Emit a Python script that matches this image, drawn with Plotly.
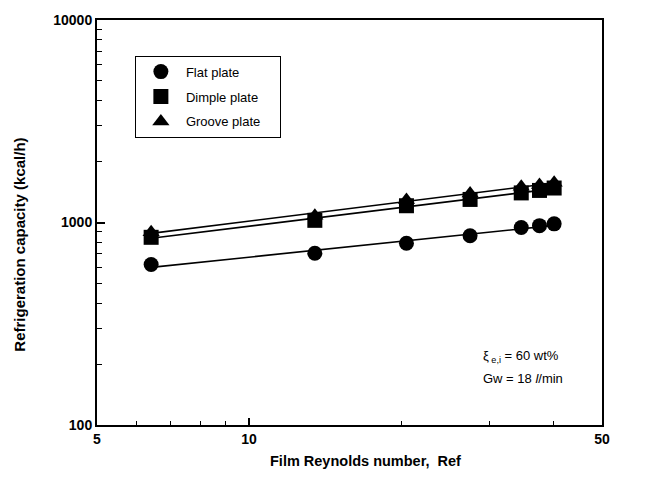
import numpy as np
import plotly.graph_objects as go

re_f = [6.4, 13.5, 20.5, 27.4, 34.6, 37.6, 40.2]
flat = [620, 705, 790, 860, 945, 965, 985]
dimple = [845, 1025, 1210, 1300, 1400, 1440, 1480]
groove = [895, 1080, 1290, 1390, 1500, 1530, 1570]

names = ["Flat plate", "Dimple plate", "Groove plate"]
symbols = ["circle", "square", "triangle-up"]
series = [flat, dimple, groove]

x_ticks = [5, 10, 50]
y_ticks = [100, 1000, 10000]

FONT = "Liberation Sans, Arial"

fig = go.Figure()
lx = np.log10(np.array(re_f))
for name, sym, ys in zip(names, symbols, series):
    p = np.polyfit(lx, np.log10(ys), 1)
    xf = np.array([re_f[0], re_f[-1]])
    yf = 10 ** np.polyval(p, np.log10(xf))
    fig.add_trace(go.Scatter(x=xf, y=yf, mode="lines",
                             line=dict(color="black", width=1.6),
                             showlegend=False, hoverinfo="skip"))
for i, (name, sym, ys) in enumerate(zip(names, symbols, series)):
    fig.add_trace(go.Scatter(x=re_f, y=ys, mode="markers",
                             name=name + "&nbsp;&nbsp;&nbsp;&nbsp;",
                             legendgroup=f"g{i}",
                             marker=dict(symbol=sym, size=15, color="black",
                                         line=dict(width=0))))

bold = dict(family=FONT, size=14, color="black")
fig.update_layout(
    width=650, height=487,
    margin=dict(l=97, r=48, t=14, b=62),
    paper_bgcolor="white", plot_bgcolor="white",
    showlegend=True,
    legend=dict(x=0.075, y=0.912, xanchor="left", yanchor="top",
                bordercolor="black", borderwidth=1, bgcolor="white",
                font=dict(family=FONT, size=13, color="black"),
                itemwidth=40, tracegroupgap=5),
    font=dict(family=FONT, color="black"),
)
fig.update_xaxes(type="log", range=[np.log10(5), np.log10(50)],
                 tickvals=x_ticks, ticktext=[f"<b>{v}</b>" for v in x_ticks],
                 ticks="inside", ticklen=7, tickwidth=1.5, tickcolor="black",
                 minor=dict(tickvals=[6, 7, 8, 9, 20, 30, 40], ticks="inside",
                            ticklen=4, tickcolor="black", tickwidth=1),
                 showline=True, linecolor="black", linewidth=2, mirror=True,
                 showgrid=False, zeroline=False, tickfont=bold)
ymin = [v * m for v in [100, 1000] for m in range(2, 10)]
fig.update_yaxes(type="log", range=[2, 4],
                 tickvals=y_ticks, ticktext=[f"<b>{v}</b>" for v in y_ticks],
                 ticks="inside", ticklen=8, tickwidth=1.5, tickcolor="black",
                 minor=dict(tickvals=ymin, ticks="inside", ticklen=5,
                            tickcolor="black", tickwidth=1),
                 showline=True, linecolor="black", linewidth=2, mirror=True,
                 showgrid=False, zeroline=False, tickfont=bold)

# axis titles as annotations (pixel-placed)
fig.add_annotation(x=(365 - 97) / 505, y=(425 - 462) / 411, xref="paper", yref="paper",
                   xanchor="center", yanchor="middle", showarrow=False,
                   text="<b>Film Reynolds number,  Ref</b>",
                   font=dict(family=FONT, size=14.5, color="black"))
fig.add_annotation(x=(20 - 97) / 505, y=(425 - 242) / 411, xref="paper", yref="paper",
                   xanchor="center", yanchor="middle", showarrow=False, textangle=-90,
                   text="<b>Refrigeration capacity (kcal/h)</b>",
                   font=dict(family=FONT, size=15, color="black"))

fig.add_annotation(x=(481 - 97) / 505, y=(425 - 355) / 411, xref="paper", yref="paper",
                   xanchor="left", yanchor="middle", showarrow=False,
                   text="ξ<sub> e,i</sub> = 60 wt%",
                   font=dict(family=FONT, size=13, color="black"))
fig.add_annotation(x=(481 - 97) / 505, y=(425 - 378) / 411, xref="paper", yref="paper",
                   xanchor="left", yanchor="middle", showarrow=False,
                   text="Gw = 18 <i>l</i>/min",
                   font=dict(family=FONT, size=13, color="black"))
fig.write_html("out.html")
